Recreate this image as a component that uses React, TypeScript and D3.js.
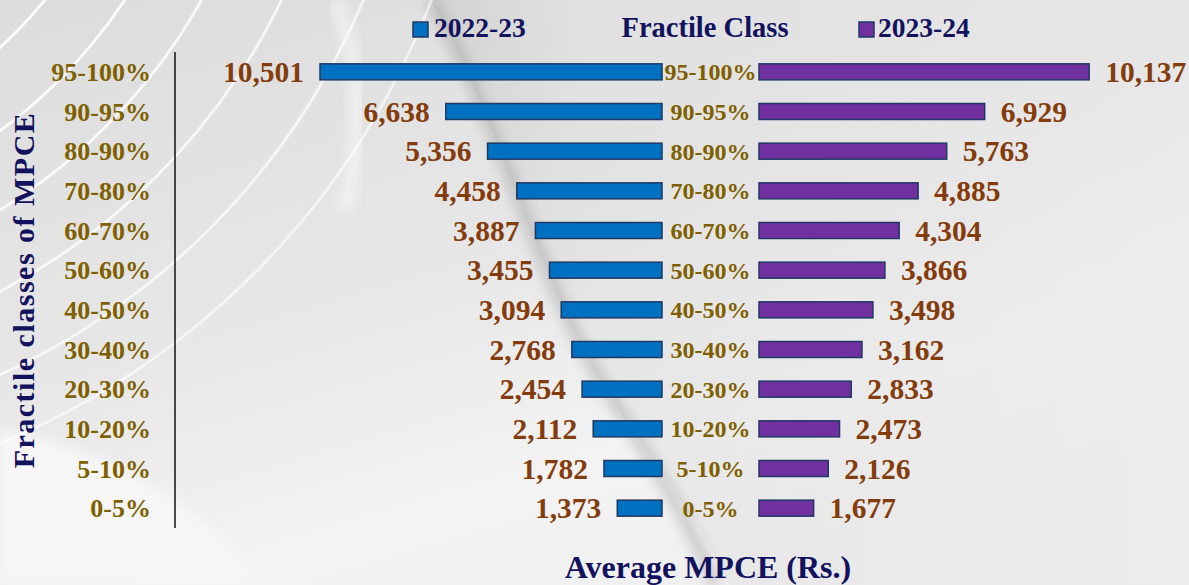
import React from 'react';
import * as d3 from 'd3';

// fractile classes, top to bottom
const classes = ['95-100%', '90-95%', '80-90%', '70-80%', '60-70%', '50-60%', '40-50%', '30-40%', '20-30%', '10-20%', '5-10%', '0-5%'];
const mpce2223 = [10501, 6638, 5356, 4458, 3887, 3455, 3094, 2768, 2454, 2112, 1782, 1373];
const mpce2324 = [10137, 6929, 5763, 4885, 4304, 3866, 3498, 3162, 2833, 2473, 2126, 1677];
const seriesNames = ['2022-23', '2023-24'];

const W = 1189;
const H = 585;
const FONT = '"Liberation Serif", "Times New Roman", serif';
const NAVY = '#12125e';
const OLIVE = '#7f6000';
const BROWN = '#843c0c';
const BLUE = '#0070c0';
const PURPLE = '#7030a0';
const BORDER = '#1f3864';

export default function App() {
  const leftEdge = 662;   // right end of the 2022-23 bars
  const rightEdge = 759;  // left start of the 2023-24 bars
  const barH = 16;

  const x = d3.scaleLinear().domain([0, 10501]).range([0, 342]);
  const y = d3.scalePoint<string>().domain(classes).range([52, 528]).padding(0.5);
  const fmt = d3.format(',');

  // white ripple arcs in the background, top-left
  const arcTops = [43, 123, 200, 280, 362, 430];
  const cx = -300, cy = -280;

  return (
    <svg width={W} height={H} style={{ position: 'absolute', left: 0, top: 0 }} fontFamily={FONT}>
      <defs>
        <linearGradient id="bg" x1="0" y1="0" x2="0.6" y2="1">
          <stop offset="0" stopColor="#dcdcdc" />
          <stop offset="0.5" stopColor="#e7e7e7" />
          <stop offset="0.8" stopColor="#f3f3f3" />
          <stop offset="1" stopColor="#f0f0f0" />
        </linearGradient>
        <linearGradient id="bgRight" x1="0" y1="0" x2="1" y2="0">
          <stop offset="0" stopColor="#cfcfcf" stopOpacity="0.9" />
          <stop offset="0.2" stopColor="#e0e0e0" stopOpacity="0.6" />
          <stop offset="1" stopColor="#e6e6e6" stopOpacity="0.4" />
        </linearGradient>
        <filter id="blur" x="-20%" y="-20%" width="140%" height="140%">
          <feGaussianBlur stdDeviation="6" />
        </filter>
      </defs>

      <rect width={W} height={H} fill="url(#bg)" />
      <path d="M0,430 C120,450 220,520 260,585 L0,585 Z" fill="#f6f6f6" filter="url(#blur)" />
      <path d="M430,0 C500,120 530,260 600,380 C650,460 700,520 730,585 L1189,585 L1189,0 Z" fill="url(#bgRight)" />
      <path d="M430,0 C500,120 530,260 600,380 C650,460 690,520 715,585" fill="none" stroke="#9a9a9a" strokeWidth={12} opacity={0.45} filter="url(#blur)" />
      <path d="M335,0 C360,60 365,130 345,210" fill="none" stroke="#ffffff" strokeWidth={14} opacity={0.5} filter="url(#blur)" />
      {arcTops.map((t, i) => {
        const r = Math.hypot(t - cx, cy);
        const arc = d3.arc()({ innerRadius: r, outerRadius: r + 2.8, startAngle: Math.PI / 2, endAngle: Math.PI }) as string;
        return <path key={i} d={arc} transform={`translate(${cx},${cy})`} fill="#ffffff" opacity={0.95 - i * 0.07} />;
      })}

      {/* legend */}
      <rect x={413} y={22} width={15} height={15} fill={BLUE} stroke={BORDER} strokeWidth={1.5} />
      <text x={434} y={37} fontSize={27.5} fontWeight="bold" fill={NAVY}>{seriesNames[0]}</text>
      <text x={705} y={37} fontSize={28.5} fontWeight="bold" fill={NAVY} textAnchor="middle">Fractile Class</text>
      <rect x={859} y={22} width={15} height={15} fill={PURPLE} stroke={BORDER} strokeWidth={1.5} />
      <text x={878} y={37} fontSize={27.5} fontWeight="bold" fill={NAVY}>{seriesNames[1]}</text>

      {/* y axis line */}
      <line x1={175} x2={175} y1={52} y2={528} stroke="#111" strokeWidth={1.5} />

      {/* y axis title */}
      <text transform="translate(34,290) rotate(-90)" fontSize={30} fontWeight="bold" fill={NAVY} textAnchor="middle" letterSpacing={1.5}>
        Fractile classes of  MPCE
      </text>

      {classes.map((c, i) => {
        const cy0 = y(c) as number;
        const wl = x(mpce2223[i]);
        const wr = x(mpce2324[i]);
        return (
          <g key={c}>
            <text x={151} y={cy0} dy="0.35em" fontSize={26} fontWeight="bold" fill={OLIVE} textAnchor="end">{c}</text>
            <rect x={leftEdge - wl} y={cy0 - barH / 2} width={wl} height={barH} fill={BLUE} stroke={BORDER} strokeWidth={1.5} />
            <rect x={rightEdge} y={cy0 - barH / 2} width={wr} height={barH} fill={PURPLE} stroke={BORDER} strokeWidth={1.5} />
            <text x={(leftEdge + rightEdge) / 2} y={cy0} dy="0.35em" fontSize={24} fontWeight="bold" fill={OLIVE} textAnchor="middle">{c}</text>
            <text x={leftEdge - wl - 16} y={cy0} dy="0.35em" fontSize={29.5} fontWeight="bold" fill={BROWN} textAnchor="end">{fmt(mpce2223[i])}</text>
            <text x={rightEdge + wr + 16} y={cy0} dy="0.35em" fontSize={29.5} fontWeight="bold" fill={BROWN}>{fmt(mpce2324[i])}</text>
          </g>
        );
      })}

      {/* x axis title */}
      <text x={708} y={578} fontSize={32} fontWeight="bold" fill={NAVY} textAnchor="middle">Average MPCE (Rs.)</text>
    </svg>
  );
}
